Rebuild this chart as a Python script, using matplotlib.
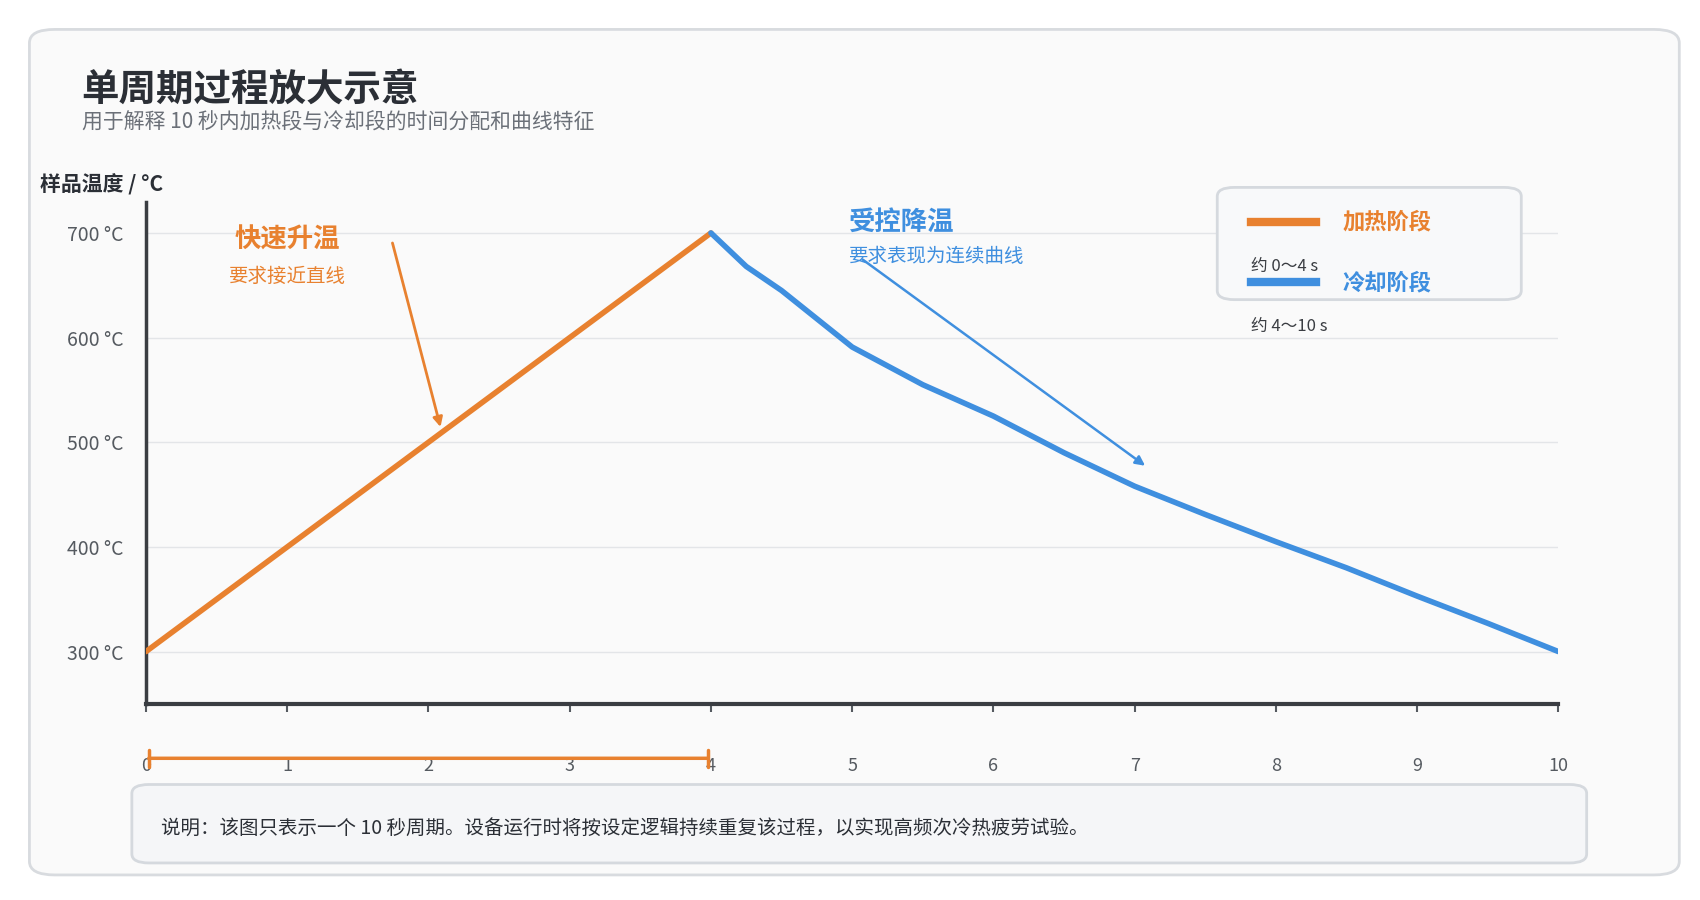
import numpy as np
import matplotlib.pyplot as plt
from matplotlib.patches import FancyBboxPatch

plt.rcParams['font.family'] = ['Noto Sans CJK SC', 'DejaVu Sans']

heat_t = [0, 4]
heat_T = [300, 700]
cool_t = [4, 4.25, 4.5, 5, 5.5, 6, 6.5, 7, 7.5, 8, 8.5, 9, 9.5, 10]
cool_T = [700, 668, 645, 591, 555, 525, 490, 458, 431, 405, 380, 353, 327, 300]
yticks = [300, 400, 500, 600, 700]
xticks = list(range(11))

ORANGE = '#e8812f'
BLUE = '#3f8fdf'
GRAY = '#555a60'

W, H = 1560, 826
fig = plt.figure(figsize=(17, 9), dpi=100)
fig.patch.set_facecolor('white')

def fx(px): return px / W
def fy(py): return 1 - py / H

card = FancyBboxPatch((fx(27), fy(803)), fx(1541) - fx(27), fy(27) - fy(803),
                      boxstyle='round,pad=0,rounding_size=0.015', transform=fig.transFigure,
                      facecolor='#fafafa', edgecolor='#d8dbdf', lw=2, zorder=-1)
fig.patches.append(card)

fig.text(fx(75), fy(82), '单周期过程放大示意', fontsize=27, fontweight='bold', color='#2b2f36', va='center')
fig.text(fx(75), fy(113), '用于解释 10 秒内加热段与冷却段的时间分配和曲线特征', fontsize=15, color='#6b7078', va='center')

ax = fig.add_axes([fx(134), fy(646), fx(1430) - fx(134), fy(185) - fy(646)])
ax.set_zorder(1)
ax.set_facecolor('#fafafa')
ax.set_xlim(0, 10)
ax.set_ylim(250, 730)
ax.plot(heat_t, heat_T, color=ORANGE, lw=4, solid_capstyle='round', zorder=3)
ax.plot(cool_t, cool_T, color=BLUE, lw=4, solid_capstyle='round', zorder=3)

ax.set_yticks(yticks)
ax.set_yticklabels([f'{v} °C' for v in yticks], fontsize=14, color=GRAY)
ax.set_xticks(xticks)
ax.set_xticklabels([str(v) for v in xticks], fontsize=13, color=GRAY)
ax.tick_params(axis='x', length=6, width=1.5, color=GRAY, pad=32)
ax.tick_params(axis='y', length=0, pad=16)
ax.grid(axis='y', color='#e3e5e8', lw=1)
for s in ['top', 'right']:
    ax.spines[s].set_visible(False)
ax.spines['left'].set_color('#3a3d42')
ax.spines['left'].set_linewidth(2.5)
ax.spines['bottom'].set_color('#3a3d42')
ax.spines['bottom'].set_linewidth(3)
ax.set_xlabel('时间 / s', fontsize=15, fontweight='bold', color='#2b2f36', loc='right', labelpad=40)

# bar under the heating interval
ax.annotate('', xy=(0, 198), xytext=(4, 198), annotation_clip=False,
            arrowprops=dict(arrowstyle='|-|', color=ORANGE, lw=2.5, mutation_scale=6))

ax.text(1.0, 693, '快速升温', fontsize=19, fontweight='bold', color=ORANGE, ha='center', va='center')
ax.text(1.0, 658, '要求接近直线', fontsize=14, color=ORANGE, ha='center', va='center')
ax.annotate('', xy=(2.09, 512), xytext=(1.74, 693),
            arrowprops=dict(arrowstyle='-|>', color=ORANGE, lw=2, mutation_scale=14))
ax.text(4.98, 710, '受控降温', fontsize=19, fontweight='bold', color=BLUE, ha='left', va='center')
ax.text(4.98, 678, '要求表现为连续曲线', fontsize=14, color=BLUE, ha='left', va='center')
ax.annotate('', xy=(7.09, 476), xytext=(5.06, 676),
            arrowprops=dict(arrowstyle='-|>', color=BLUE, lw=1.8, mutation_scale=14))

fig.text(fx(37), fy(170), '样品温度 / °C', fontsize=15, fontweight='bold', color='#2b2f36', va='center', zorder=2)

# legend box
leg = FancyBboxPatch((fx(1117), fy(275)), fx(1396) - fx(1117), fy(172) - fy(275),
                     boxstyle='round,pad=0,rounding_size=0.01', transform=fig.transFigure,
                     facecolor='#f8f9fa', edgecolor='#d5d9de', lw=2, zorder=5)
fig.patches.append(leg)
fig.add_artist(plt.Line2D([fx(1148), fx(1208)], [fy(204), fy(204)], color=ORANGE, lw=6, zorder=6))
fig.add_artist(plt.Line2D([fx(1148), fx(1208)], [fy(259), fy(259)], color=BLUE, lw=6, zorder=6))
fig.text(fx(1232), fy(204), '加热阶段', fontsize=16, fontweight='bold', color=ORANGE, va='center', zorder=7)
fig.text(fx(1232), fy(260), '冷却阶段', fontsize=16, fontweight='bold', color=BLUE, va='center', zorder=7)
fig.text(fx(1148), fy(245), '约 0～4 s', fontsize=12, color='#3a3d42', va='center', zorder=7)
fig.text(fx(1148), fy(300), '约 4～10 s', fontsize=12, color='#3a3d42', va='center', zorder=7)

# note box
note = FancyBboxPatch((fx(121), fy(792)), fx(1456) - fx(121), fy(720) - fy(792),
                      boxstyle='round,pad=0,rounding_size=0.01', transform=fig.transFigure,
                      facecolor='#f5f6f8', edgecolor='#d5d9de', lw=2, zorder=8)
fig.patches.append(note)
fig.text(fx(148), fy(760), '说明：该图只表示一个 10 秒周期。设备运行时将按设定逻辑持续重复该过程，以实现高频次冷热疲劳试验。',
         fontsize=14, color='#2b2f36', va='center', zorder=9)

fig.savefig('out.png', dpi=100)
